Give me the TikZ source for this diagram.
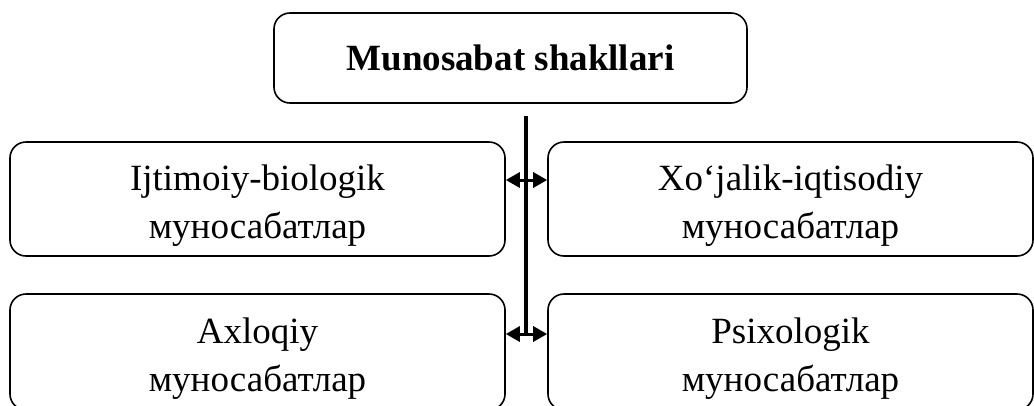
\documentclass[tikz,border=0pt]{standalone}
\usepackage{fontspec}
\setmainfont{Liberation Serif}
\usetikzlibrary{arrows.meta}

\newcommand{\toprow}{\rule{0pt}{38pt}}

\tikzset{
	box/.style={draw, line width=1.6pt, rounded corners=16pt, align=center, inner sep=0pt,
		font=\fontsize{37}{48}\selectfont},
	link/.style={line width=3pt, {Triangle[length=14pt,width=15pt]}-{Triangle[length=14pt,width=15pt]}},
}

\begin{document}
\begin{tikzpicture}[x=1pt, y=-1pt]
	\useasboundingbox (0,0) rectangle (1034,405);
	\clip (0,0) rectangle (1034,405);
	
	\node [box, minimum width=473pt, minimum height=90pt] (forms) at (510.5,58) {\textbf{Munosabat shakllari}};
	
	\node [box, minimum width=495pt, minimum height=114pt] (social) at (257.5,199) {\toprow Ijtimoiy-biologik\\муносабатлар};
	\node [box, minimum width=485pt, minimum height=114pt] (economic) at (790.5,199) {\toprow Xo‘jalik-iqtisodiy\\муносабатлар};
	\node [box, minimum width=495pt, minimum height=116pt] (moral) at (257.5,352) {\toprow Axloqiy\\муносабатлар};
	\node [box, minimum width=485pt, minimum height=116pt] (psycho) at (790.5,352) {\toprow Psixologik\\муносабатлар};
	
	\coordinate (stem) at (526,116);
	\coordinate (hubA) at (526,180);
	\coordinate (hubB) at (526,334);
	
	\draw [line width=4pt] (stem) -- (hubB);
	\draw [link] (hubA -| social.east) -- (hubA -| economic.west);
	\draw [link] (hubB -| moral.east) -- (hubB -| psycho.west);
\end{tikzpicture}
\end{document}
